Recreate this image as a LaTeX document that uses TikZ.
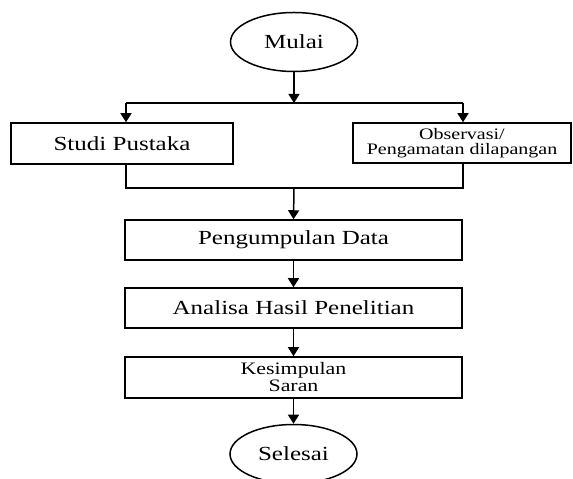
\documentclass[tikz,border=0pt]{standalone}
\usepackage{fontspec}
\setmainfont{Liberation Serif}[FakeStretch=1.25]
\usetikzlibrary{arrows.meta,shapes.geometric}
\begin{document}
\begin{tikzpicture}[x=1pt,y=1pt,
  line width=1.5pt,
  term/.style={draw, ellipse, minimum width=127pt, minimum height=59pt, inner sep=0pt, font=\fontsize{20}{22}\selectfont},
  procbox/.style={draw, rectangle, inner sep=0pt, font=\fontsize{20}{22}\selectfont, align=center},
  arr/.style={-{Triangle[width=11pt,length=9pt]}}]
\useasboundingbox (0,0) rectangle (573,479);
\node[term] (mulai) at (294,437) {Mulai};
\node[procbox, minimum width=222pt, minimum height=41pt] (studi) at (122,335.5) {Studi Pustaka};
\node[procbox, minimum width=218pt, minimum height=40pt, font=\fontsize{16}{15}\selectfont] (obs) at (462,336) {Observasi/\\Pengamatan dilapangan};
\node[procbox, minimum width=337pt, minimum height=40pt] (kumpul) at (293.5,239) {Pengumpulan Data};
\node[procbox, minimum width=337pt, minimum height=40pt] (analisa) at (293.5,171) {Analisa Hasil Penelitian};
\node[procbox, minimum width=337pt, minimum height=41pt, font=\fontsize{17.5}{17}\selectfont] (kesim) at (293.5,101.5) {Kesimpulan\\Saran};
\node[term] (selesai) at (293.5,25) {Selesai};
\coordinate (split) at (294,376);
\coordinate (sl) at (126,376);
\coordinate (sr) at (463,376);
\coordinate (merge) at (294,291);
\coordinate (ml) at (126,291);
\coordinate (mr) at (463,291);
\draw[arr] (mulai.south) -- (split);
\draw (sl) -- (sr);
\draw[arr] (sl) -- (sl |- studi.north);
\draw[arr] (sr) -- (sr |- obs.north);
\draw (ml |- studi.south) -- (ml) -- (mr) -- (mr |- obs.south);
\draw[arr] (merge) -- (kumpul.north);
\draw[arr] (kumpul.south) -- (analisa.north);
\draw[arr] (analisa.south) -- (kesim.north);
\draw[arr] (kesim.south) -- (selesai.north);
\end{tikzpicture}
\end{document}
